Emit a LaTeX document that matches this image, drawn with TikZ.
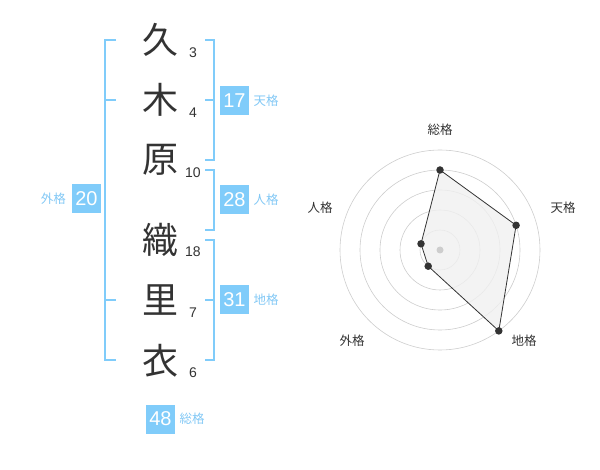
\documentclass[tikz,border=0pt]{standalone}
\usepackage{fontspec}
\setmainfont{Liberation Sans}
\newfontfamily\cjk{Noto Sans CJK JP}
\definecolor{kblue}{RGB}{128,204,250}
\definecolor{lblue}{RGB}{130,200,245}
\definecolor{ink}{RGB}{51,51,51}
\definecolor{ringc}{RGB}{205,205,205}
\definecolor{polyfill}{RGB}{240,240,240}
\tikzset{
  kanji/.style={font=\cjk\fontsize{36}{36}\selectfont, text=ink, inner sep=0pt},
  stroke/.style={font=\fontsize{14}{14}\selectfont, text=ink, inner sep=0pt},
  numbox/.style={fill=kblue, text=white, minimum width=29pt, minimum height=29pt, inner sep=0pt, font=\fontsize{20}{20}\selectfont},
  kaku/.style={font=\cjk\fontsize{12.5}{12.5}\selectfont, text=lblue, inner sep=0pt},
  bracket/.style={draw=kblue, line width=2pt},
  ring/.style={draw=ringc, line width=0.6pt},
  rlabel/.style={font=\cjk\fontsize{12.5}{12.5}\selectfont, text=ink, inner sep=0pt},
  dot/.style={circle, fill=ink, inner sep=0pt, minimum size=7.5pt},
}
\begin{document}
\begin{tikzpicture}[x=1pt,y=-1pt]
\useasboundingbox (0,0) rectangle (600,470);
% characters
\node[kanji] (c1) at (160,40) {久};
\node[kanji] (c2) at (160,100) {木};
\node[kanji] (c3) at (160,160) {原};
\node[kanji] (c4) at (160,240) {織};
\node[kanji] (c5) at (160,300) {里};
\node[kanji] (c6) at (160,361) {衣};
% stroke counts
\node[stroke] (s1) at (193,53) {3};
\node[stroke] (s2) at (193,113) {4};
\node[stroke] (s3) at (193,173) {10};
\node[stroke] (s4) at (193,252) {18};
\node[stroke] (s5) at (193,313) {7};
\node[stroke] (s6) at (193,373) {6};
% brackets
\draw[bracket] (116,40) -- (105,40) -- (105,360) -- (116,360);
\draw[bracket] (105,100) -- (116,100);
\draw[bracket] (105,300) -- (116,300);
\draw[bracket] (205,40) -- (214,40) -- (214,160) -- (205,160);
\draw[bracket] (205,100) -- (214,100);
\draw[bracket] (205,170) -- (214,170) -- (214,230) -- (205,230);
\draw[bracket] (205,240) -- (214,240) -- (214,360) -- (205,360);
\draw[bracket] (205,300) -- (214,300);
% boxes
\node[numbox] (b17) at (234.5,100.5) {17};
\node[kaku, anchor=west] (k17) at (253.5,100.5) {天格};
\node[numbox] (b28) at (234.5,199.5) {28};
\node[kaku, anchor=west] (k28) at (253.5,199.5) {人格};
\node[numbox] (b31) at (234.5,300) {31};
\node[kaku, anchor=west] (k31) at (253.5,300) {地格};
\node[numbox] (b20) at (86.5,199) {20};
\node[kaku, anchor=east] (k20) at (66,199) {外格};
\node[numbox] (b48) at (160.5,419) {48};
\node[kaku, anchor=west] (k48) at (179.5,419) {総格};
% radar
\coordinate (o) at (440,250);
\foreach \r in {20,40,60,80,100} \draw[ring] (o) circle (\r);
\coordinate (pS) at (440,170);
\coordinate (pT) at (516.1,225.3);
\coordinate (pC) at (498.8,330.9);
\coordinate (pG) at (428.2,266.2);
\coordinate (pJ) at (421,243.8);
\filldraw[fill=polyfill, fill opacity=0.8, draw=ink, line width=0.8pt] (pS) -- (pT) -- (pC) -- (pG) -- (pJ) -- cycle;
\fill[ringc] (o) circle (3.5);
\foreach \p in {pS,pT,pC,pG,pJ} \node[dot] at (\p) {};
\node[rlabel] (rS) at (440,130) {総格};
\node[rlabel] (rT) at (563,208) {天格};
\node[rlabel] (rC) at (524,341) {地格};
\node[rlabel] (rG) at (352,341) {外格};
\node[rlabel] (rJ) at (320,208) {人格};
\end{tikzpicture}
\end{document}
